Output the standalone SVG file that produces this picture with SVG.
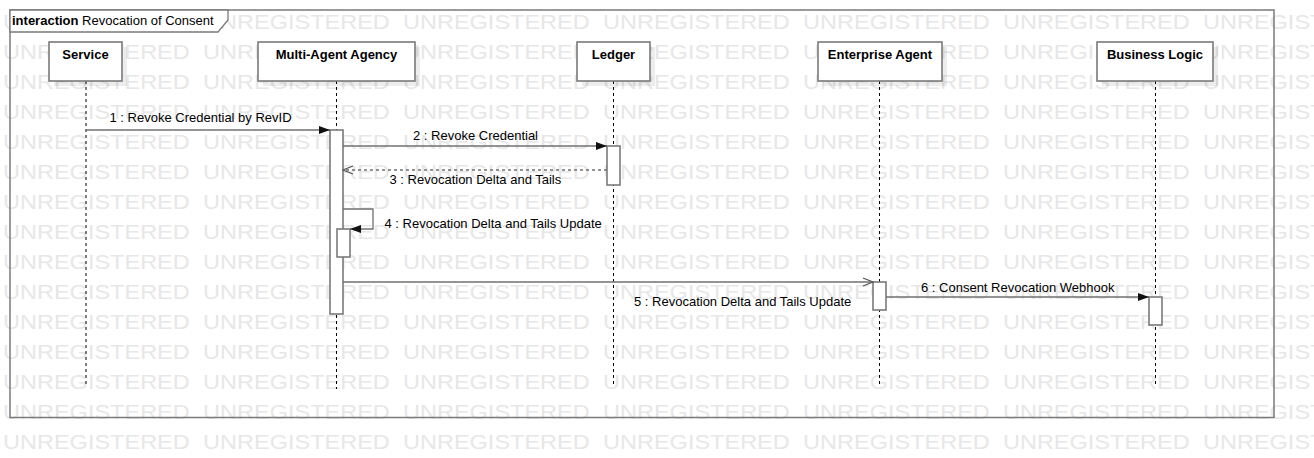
<svg xmlns="http://www.w3.org/2000/svg" width="1314" height="458" viewBox="0 0 1314 458">
<style>
.wm{font-family:"Liberation Sans",Arial,sans-serif;font-size:21px;fill:#e7e7e7}
.frame{fill:none;stroke:#7a7a7a;stroke-width:1.5}
.tab{fill:#fff;stroke:#7a7a7a;stroke-width:1.3}
.box{fill:#fff;stroke:#7a7a7a;stroke-width:1.6}
.shadow{fill:#000;fill-opacity:0.07}
.title{font-family:"Liberation Sans",Arial,sans-serif;font-size:13px;font-weight:bold;fill:#000;text-anchor:middle}
.life{stroke:#000;stroke-width:1;stroke-dasharray:3,3;fill:none}
.act{fill:#fff;stroke:#7a7a7a;stroke-width:1.6}
.msg{stroke:#707070;stroke-width:1.3;fill:none}
.ret{stroke:#707070;stroke-width:1.3;fill:none;stroke-dasharray:3,3}
.lbl{font-family:"Liberation Sans",Arial,sans-serif;font-size:13px;fill:#000}
</style>
<defs>
<marker id="filled" markerWidth="11" markerHeight="8" refX="11" refY="4" orient="auto" markerUnits="userSpaceOnUse"><path d="M0,0 L11,4 L0,8 Z" fill="#111"/></marker>
<marker id="open" markerWidth="12" markerHeight="10" refX="11" refY="5" orient="auto" markerUnits="userSpaceOnUse"><path d="M1,1 L11,5 L1,9" fill="none" stroke="#555" stroke-width="1.3"/></marker>
</defs>

<g id="watermark" class="wm" transform="scale(1.12,1)">
<text y="29"><tspan x="2.7">UNREGISTERED</tspan><tspan x="181.3">UNREGISTERED</tspan><tspan x="359.8">UNREGISTERED</tspan><tspan x="538.4">UNREGISTERED</tspan><tspan x="717">UNREGISTERED</tspan><tspan x="895.5">UNREGISTERED</tspan><tspan x="1074.1">UNREGISTERED</tspan></text>
<text y="59"><tspan x="2.7">UNREGISTERED</tspan><tspan x="181.3">UNREGISTERED</tspan><tspan x="359.8">UNREGISTERED</tspan><tspan x="538.4">UNREGISTERED</tspan><tspan x="717">UNREGISTERED</tspan><tspan x="895.5">UNREGISTERED</tspan><tspan x="1074.1">UNREGISTERED</tspan></text>
<text y="89"><tspan x="2.7">UNREGISTERED</tspan><tspan x="181.3">UNREGISTERED</tspan><tspan x="359.8">UNREGISTERED</tspan><tspan x="538.4">UNREGISTERED</tspan><tspan x="717">UNREGISTERED</tspan><tspan x="895.5">UNREGISTERED</tspan><tspan x="1074.1">UNREGISTERED</tspan></text>
<text y="119"><tspan x="2.7">UNREGISTERED</tspan><tspan x="181.3">UNREGISTERED</tspan><tspan x="359.8">UNREGISTERED</tspan><tspan x="538.4">UNREGISTERED</tspan><tspan x="717">UNREGISTERED</tspan><tspan x="895.5">UNREGISTERED</tspan><tspan x="1074.1">UNREGISTERED</tspan></text>
<text y="149"><tspan x="2.7">UNREGISTERED</tspan><tspan x="181.3">UNREGISTERED</tspan><tspan x="359.8">UNREGISTERED</tspan><tspan x="538.4">UNREGISTERED</tspan><tspan x="717">UNREGISTERED</tspan><tspan x="895.5">UNREGISTERED</tspan><tspan x="1074.1">UNREGISTERED</tspan></text>
<text y="179"><tspan x="2.7">UNREGISTERED</tspan><tspan x="181.3">UNREGISTERED</tspan><tspan x="359.8">UNREGISTERED</tspan><tspan x="538.4">UNREGISTERED</tspan><tspan x="717">UNREGISTERED</tspan><tspan x="895.5">UNREGISTERED</tspan><tspan x="1074.1">UNREGISTERED</tspan></text>
<text y="209"><tspan x="2.7">UNREGISTERED</tspan><tspan x="181.3">UNREGISTERED</tspan><tspan x="359.8">UNREGISTERED</tspan><tspan x="538.4">UNREGISTERED</tspan><tspan x="717">UNREGISTERED</tspan><tspan x="895.5">UNREGISTERED</tspan><tspan x="1074.1">UNREGISTERED</tspan></text>
<text y="239"><tspan x="2.7">UNREGISTERED</tspan><tspan x="181.3">UNREGISTERED</tspan><tspan x="359.8">UNREGISTERED</tspan><tspan x="538.4">UNREGISTERED</tspan><tspan x="717">UNREGISTERED</tspan><tspan x="895.5">UNREGISTERED</tspan><tspan x="1074.1">UNREGISTERED</tspan></text>
<text y="269"><tspan x="2.7">UNREGISTERED</tspan><tspan x="181.3">UNREGISTERED</tspan><tspan x="359.8">UNREGISTERED</tspan><tspan x="538.4">UNREGISTERED</tspan><tspan x="717">UNREGISTERED</tspan><tspan x="895.5">UNREGISTERED</tspan><tspan x="1074.1">UNREGISTERED</tspan></text>
<text y="299"><tspan x="2.7">UNREGISTERED</tspan><tspan x="181.3">UNREGISTERED</tspan><tspan x="359.8">UNREGISTERED</tspan><tspan x="538.4">UNREGISTERED</tspan><tspan x="717">UNREGISTERED</tspan><tspan x="895.5">UNREGISTERED</tspan><tspan x="1074.1">UNREGISTERED</tspan></text>
<text y="329"><tspan x="2.7">UNREGISTERED</tspan><tspan x="181.3">UNREGISTERED</tspan><tspan x="359.8">UNREGISTERED</tspan><tspan x="538.4">UNREGISTERED</tspan><tspan x="717">UNREGISTERED</tspan><tspan x="895.5">UNREGISTERED</tspan><tspan x="1074.1">UNREGISTERED</tspan></text>
<text y="359"><tspan x="2.7">UNREGISTERED</tspan><tspan x="181.3">UNREGISTERED</tspan><tspan x="359.8">UNREGISTERED</tspan><tspan x="538.4">UNREGISTERED</tspan><tspan x="717">UNREGISTERED</tspan><tspan x="895.5">UNREGISTERED</tspan><tspan x="1074.1">UNREGISTERED</tspan></text>
<text y="389"><tspan x="2.7">UNREGISTERED</tspan><tspan x="181.3">UNREGISTERED</tspan><tspan x="359.8">UNREGISTERED</tspan><tspan x="538.4">UNREGISTERED</tspan><tspan x="717">UNREGISTERED</tspan><tspan x="895.5">UNREGISTERED</tspan><tspan x="1074.1">UNREGISTERED</tspan></text>
<text y="419"><tspan x="2.7">UNREGISTERED</tspan><tspan x="181.3">UNREGISTERED</tspan><tspan x="359.8">UNREGISTERED</tspan><tspan x="538.4">UNREGISTERED</tspan><tspan x="717">UNREGISTERED</tspan><tspan x="895.5">UNREGISTERED</tspan><tspan x="1074.1">UNREGISTERED</tspan></text>
<text y="449"><tspan x="2.7">UNREGISTERED</tspan><tspan x="181.3">UNREGISTERED</tspan><tspan x="359.8">UNREGISTERED</tspan><tspan x="538.4">UNREGISTERED</tspan><tspan x="717">UNREGISTERED</tspan><tspan x="895.5">UNREGISTERED</tspan><tspan x="1074.1">UNREGISTERED</tspan></text>
</g>

<g id="frame">
<rect class="frame" x="10" y="10" width="1264" height="407.5"/>
<path class="tab" d="M10,10 H228 V20 L218,32 H10 Z"/>
<text class="lbl" x="12" y="25"><tspan font-weight="bold">interaction</tspan> Revocation of Consent</text>
</g>

<g id="lifelines">
<line class="life" x1="86" y1="81" x2="86" y2="387"/>
<line class="life" x1="336.5" y1="81" x2="336.5" y2="389"/>
<line class="life" x1="613.5" y1="81" x2="613.5" y2="387"/>
<line class="life" x1="879.5" y1="81" x2="879.5" y2="387"/>
<line class="life" x1="1155.5" y1="81" x2="1155.5" y2="387"/>
</g>

<g id="service">
<rect class="shadow" x="54" y="47" width="73" height="39"/>
<rect class="box" x="49" y="42" width="73" height="39"/>
<text class="title" x="85.5" y="59">Service</text>
</g>

<g id="multi-agent-agency">
<rect class="shadow" x="263" y="47" width="157" height="39"/>
<rect class="box" x="258" y="42" width="157" height="39"/>
<text class="title" x="336.5" y="59">Multi-Agent Agency</text>
<rect class="act" x="330" y="130" width="13" height="184"/>
<rect class="act" x="337" y="229" width="13" height="28"/>
</g>

<g id="ledger">
<rect class="shadow" x="582" y="47" width="73" height="39"/>
<rect class="box" x="577" y="42" width="73" height="39"/>
<text class="title" x="613.5" y="59">Ledger</text>
<rect class="act" x="607" y="146" width="13" height="39"/>
</g>

<g id="enterprise-agent">
<rect class="shadow" x="823" y="47" width="124" height="39"/>
<rect class="box" x="818" y="42" width="124" height="39"/>
<text class="title" x="880" y="59">Enterprise Agent</text>
<rect class="act" x="873" y="282" width="13" height="28"/>
</g>

<g id="business-logic">
<rect class="shadow" x="1102" y="47" width="116" height="39"/>
<rect class="box" x="1097" y="42" width="116" height="39"/>
<text class="title" x="1155" y="59">Business Logic</text>
<rect class="act" x="1149" y="297" width="13" height="28"/>
</g>

<g id="connectors">
<line class="msg" x1="86" y1="130" x2="330" y2="130" marker-end="url(#filled)"/>
<text class="lbl" x="109.5" y="122">1 : Revoke Credential by RevID</text>
<line class="msg" x1="343" y1="146" x2="607" y2="146" marker-end="url(#filled)"/>
<text class="lbl" x="413" y="139.5">2 : Revoke Credential</text>
<line class="ret" x1="607" y1="170" x2="343" y2="170" marker-end="url(#open)"/>
<text class="lbl" x="389.5" y="184">3 : Revocation Delta and Tails</text>
<path class="msg" d="M343,209 H373 V229 H350" marker-end="url(#filled)"/>
<text class="lbl" x="384.5" y="228">4 : Revocation Delta and Tails Update</text>
<line class="msg" x1="343" y1="282" x2="873" y2="282" marker-end="url(#open)"/>
<text class="lbl" x="634" y="306">5 : Revocation Delta and Tails Update</text>
<line class="msg" x1="886" y1="297" x2="1149" y2="297" marker-end="url(#filled)"/>
<text class="lbl" x="921" y="292">6 : Consent Revocation Webhook</text>
</g>
</svg>
